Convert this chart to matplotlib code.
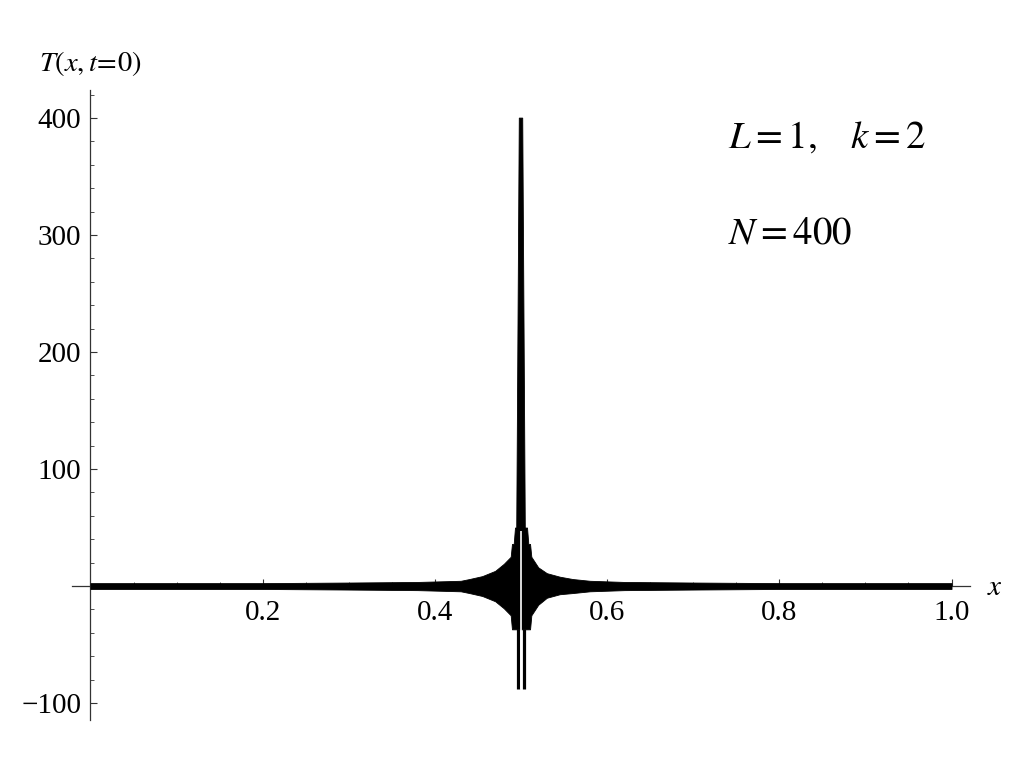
import matplotlib
matplotlib.use("Agg")
import matplotlib.pyplot as plt
import numpy as np

plt.rcParams["font.family"] = ["Liberation Serif", "DejaVu Serif"]
plt.rcParams["mathtext.fontset"] = "stix"

# envelope of the dense oscillation
env_x = [0.0, 0.10, 0.20, 0.30, 0.38, 0.43, 0.44, 0.455, 0.47, 0.48, 0.488,
         0.4895, 0.4915, 0.4930, 0.5070, 0.5085, 0.5105, 0.512, 0.52, 0.53,
         0.545, 0.56, 0.58, 0.62, 0.70, 0.80, 0.90, 1.0]
env_upper = [2.5, 2.5, 2.5, 3, 3.5, 4.5, 6, 8.5, 13, 19, 25,
             36, 36, 50, 50, 36, 36, 25, 16, 11,
             8, 6, 4.5, 3.5, 3, 2.5, 2.5, 2.5]
env_lower = [-2.5, -2.5, -2.5, -3, -3.5, -4.5, -6, -8.5, -13, -19, -25,
             -37, -37, -37, -37, -37, -37, -25, -16, -10,
             -7, -6, -4.5, -3.5, -3, -2.5, -2.5, -2.5]

# central peak (outline) and the two negative dips
peak_x = [0.4950, 0.4980, 0.5020, 0.5050]
peak_y = [47, 400, 400, 47]
dip_x = [0.4963, 0.5040]
dip_min = -88
dip_top = -37
gap_x = 0.50015
gap_top = 47

xticks = [0.2, 0.4, 0.6, 0.8, 1.0]
xticklabels = ["0.2", "0.4", "0.6", "0.8", "1.0"]
yticks = [-100, 100, 200, 300, 400]
yticklabels = ["\u2212100", "100", "200", "300", "400"]

fig = plt.figure(figsize=(10.24, 7.68), dpi=100)
ax = fig.add_axes([0.0703, 0.0625, 0.877, 0.8203])

ax.fill_between(env_x, env_lower, env_upper, color="black", lw=0.6, zorder=3)
ax.fill(peak_x, peak_y, color="black", lw=0.6, zorder=3)
ax.vlines(dip_x, dip_min, dip_top, color="black", lw=2.3, zorder=3)
ax.vlines([gap_x], dip_min, gap_top, color="white", lw=1.2, zorder=4)

ax.set_xlim(-0.0215, 1.0215)
ax.set_ylim(-114.5, 424)

for s in ["top", "right"]:
    ax.spines[s].set_visible(False)
ax.spines["left"].set_position(("data", 0))
ax.spines["bottom"].set_position(("data", 0))
for s in ["left", "bottom"]:
    ax.spines[s].set_color("0.2")
    ax.spines[s].set_linewidth(0.9)

ax.set_xticks(xticks)
ax.set_xticklabels(xticklabels)
ax.set_yticks(yticks)
ax.set_yticklabels(yticklabels)
ax.set_xticks(np.arange(0.05, 1.01, 0.05), minor=True)
ax.set_yticks(np.arange(-100, 421, 20), minor=True)
ax.tick_params(which="major", direction="in", length=5, width=0.8,
               color="0.2", labelsize=21)
ax.tick_params(which="minor", direction="in", length=3, width=0.6,
               color="0.2")
ax.tick_params(axis="x", pad=10)
ax.tick_params(axis="y", pad=6.5)

fig.text(39 / 1024, 1 - 71 / 768, r"$T(x,t\!=\!0)$", fontsize=20.5,
         ha="left", va="baseline")
fig.text(995 / 1024, 1 - 595 / 768, r"$x$", fontsize=21,
         ha="center", va="baseline")
fig.text(728 / 1024, 1 - 148 / 768, r"$L=1,\quad k=2$", fontsize=28,
         ha="left", va="baseline")
fig.text(728 / 1024, 1 - 244 / 768, r"$N=400$", fontsize=28,
         ha="left", va="baseline")

fig.savefig("out.png", dpi=100)
